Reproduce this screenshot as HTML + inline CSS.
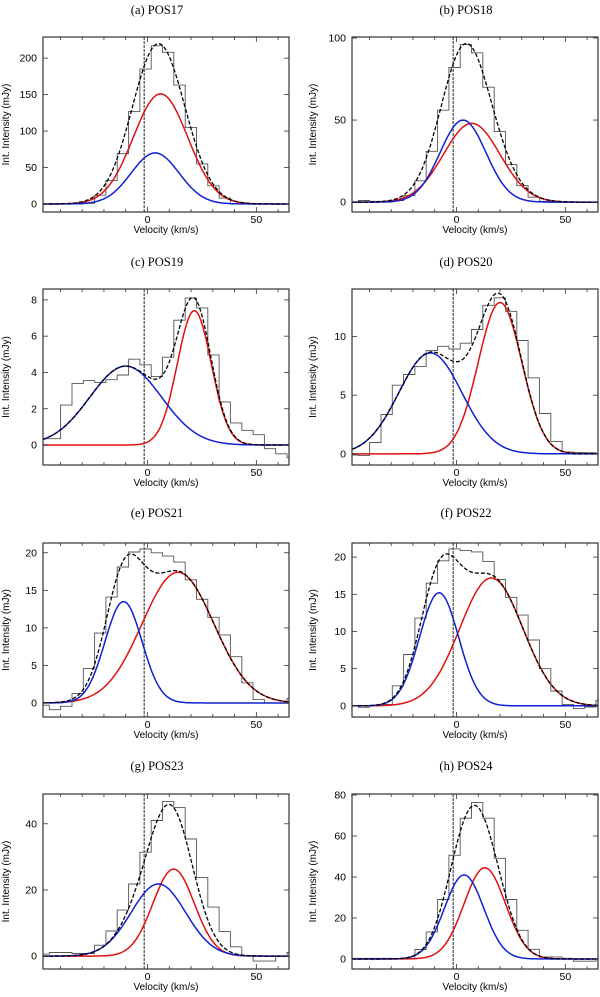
<!DOCTYPE html>
<html><head><meta charset="utf-8">
<style>
html,body{margin:0;padding:0;background:#fff;}
svg{display:block;font-family:"Liberation Sans",sans-serif;}
.title{font-family:"Liberation Serif",serif;font-size:12.5px;}
.tick{font-size:10.5px;}
.lab{font-size:10px;}
</style></head>
<body>
<svg id="fig" width="600" height="997" viewBox="0 0 600 997" xmlns="http://www.w3.org/2000/svg"></svg>
<script>
// shared spectral grid
const binStart = -50.3;
const binWidth = 5.2;
const xDomain = [-48, 65];
const xTicks = [0, 50];
const vLine = -1.5;

const titles = ["(a) POS17","(b) POS18","(c) POS19","(d) POS20","(e) POS21","(f) POS22","(g) POS23","(h) POS24"];
const yDomains = [[-11,229],[-6,100.6],[-1.1,8.6],[-0.95,14.05],[-1.87,21.3],[-1.5,21.9],[-3.9,49],[-4.9,80.5]];
const yTicks = [[0,50,100,150,200],[0,50,100],[0,2,4,6,8],[0,5,10],[0,5,10,15,20],[0,5,10,15,20],[0,20,40],[0,20,40,60,80]];

// observed channel values per panel
const stepsA = [0,0,0,0,1,12,32,69,127,185,217,208,163,105,55,25,8,0,0,0,0,0,0];
const stepsB = [0,1,0.5,0,1,4,13,31,56,82,96,91,70,43,23,10,3,0.5,0,0,0,0,0];
const stepsC = [0.35,0.35,2.2,3.4,3.55,3.45,3.6,3.86,4.73,4.42,3.77,4.84,6.88,8.1,7.56,4.97,2.38,1.22,0.81,0.57,-0.2,-0.48,-0.7];
const stepsD = [-0.1,-0.15,0.97,3.35,5.85,6.76,7.45,8.8,9.17,8.94,9.43,10.6,12.66,13.3,12.15,9.66,6.48,3.44,1.06,0.17,0.11,0.1,0];
const stepsE = [-0.3,-0.9,-0.45,1.25,4.6,9.3,14.1,18.1,20.1,20.5,20.0,19.55,18.75,16.4,13.8,11.4,9.06,6.16,2.68,0.45,0,0,0.6];
const stepsF = [0,-0.2,0,0.2,2.7,6.9,11.8,16.5,19.5,21.1,20.9,20.7,19.4,17.0,14.6,12.2,8.85,5.0,2.0,0.2,-0.35,-0.15,0.75];
const stepsG = [0.6,1.1,1.1,0.8,0.8,3.3,7.6,13.9,21.8,31.4,41.0,46.7,44.9,35.4,23.8,14.8,7.4,2.8,0,-1.5,-1.5,0,1.1];
const stepsH = [0.3,0.3,0.3,0.3,0,0.3,4.6,13.2,29,50.6,68.7,76.4,68.7,49.1,29,14,4.7,1,1,0.3,-1.1,-1.1,0];

// gaussian components [amplitude, center km/s, sigma km/s]
const redA = [151, 6, 12.5],  blueA = [70, 3.5, 11];
const redB = [48, 7, 13],     blueB = [50, 3, 10.5];
const redC = [7.4, 21.5, 7.8], blueC = [4.35, -10, 16.5];
const redD = [12.9, 20, 10],  blueD = [8.6, -12, 14.5];
const redE = [17.4, 14, 16.5], blueE = [13.5, -11, 8.5];
const redF = [17.2, 16, 14.5], blueF = [15.2, -8, 9];
const redG = [26.3, 12, 9.5], blueG = [21.8, 5, 12.5];
const redH = [44.5, 13, 9.5], blueH = [41, 3.5, 9];

const stepsAll = [stepsA,stepsB,stepsC,stepsD,stepsE,stepsF,stepsG,stepsH];
const redAll = [redA,redB,redC,redD,redE,redF,redG,redH];
const blueAll = [blueA,blueB,blueC,blueD,blueE,blueF,blueG,blueH];

const NS = "http://www.w3.org/2000/svg";
const fig = document.getElementById("fig");
function mk(tag, attrs, parent){
  const e = document.createElementNS(NS, tag);
  for (const k in attrs) e.setAttribute(k, attrs[k]);
  (parent||fig).appendChild(e);
  return e;
}
function gauss(p, v){ return p[0]*Math.exp(-(v-p[1])*(v-p[1])/(2*p[2]*p[2])); }

const boxLefts = [43, 352];
const boxW = [246, 246];
const boxTops = [37, 289, 543, 794];
const boxH = [175, 176, 174, 175];
const titleY = [14, 266, 517, 770];

for (let i = 0; i < 8; i++) {
  const col = i % 2, row = Math.floor(i/2);
  const L = boxLefts[col], T = boxTops[row], W = boxW[col], H = boxH[row];
  const R = L + W, B = T + H;
  const yd = yDomains[i];
  const xs = v => L + (v - xDomain[0]) / (xDomain[1] - xDomain[0]) * W;
  const ys = y => B - (y - yd[0]) / (yd[1] - yd[0]) * H;

  const g = mk("g", {});
  
  

  const t = mk("text", {x: L + W/2 - 9, y: titleY[row], "text-anchor":"middle", class:"title"}, g);
  t.textContent = titles[i];
  
  

  const cid = "clip" + i;
  const cp = mk("clipPath", {id: cid}, g);
  mk("rect", {x: L, y: T, width: W, height: H}, cp);
  const plot = mk("g", {"clip-path": "url(#" + cid + ")"}, g);

  // histogram
  const st = stepsAll[i];
  let d = "M" + L + "," + ys(st[0]).toFixed(1);
  for (let k = 0; k < st.length; k++) {
    const x0 = xs(binStart + k*binWidth), x1 = xs(binStart + (k+1)*binWidth);
    d += "L" + x0.toFixed(1) + "," + ys(st[k]).toFixed(1) + "L" + x1.toFixed(1) + "," + ys(st[k]).toFixed(1);
  }
  const hist = mk("path", {d: d, fill: "none", stroke: "#555", "stroke-width": 0.9}, plot);
  
  

  // velocity marker line
  const vl = mk("line", {x1: xs(vLine), x2: xs(vLine), y1: T, y2: B, stroke: "#666", "stroke-width": 1.4, "stroke-dasharray": "3,1"}, plot);
  
  

  function curve(fn){
    let s = "";
    for (let v = xDomain[0]; v <= xDomain[1] + 0.01; v += 0.5) {
      s += (s ? "L" : "M") + xs(v).toFixed(1) + "," + ys(fn(v)).toFixed(1);
    }
    return s;
  }
  const rc = mk("path", {d: curve(v => gauss(redAll[i], v)), fill: "none", stroke: "#e01010", "stroke-width": 1.5}, plot);
  
  
  const bc = mk("path", {d: curve(v => gauss(blueAll[i], v)), fill: "none", stroke: "#1020d0", "stroke-width": 1.5}, plot);
  
  
  const tc = mk("path", {d: curve(v => gauss(redAll[i], v) + gauss(blueAll[i], v)), fill: "none", stroke: "#000", "stroke-width": 1.3, "stroke-dasharray": "4,2"}, plot);
  
  

  // frame
  const fr = mk("rect", {x: L, y: T, width: W, height: H, fill: "none", stroke: "#333", "stroke-width": 1.2}, g);
  
  

  // x ticks
  for (let v = -40; v <= 60; v += 10) {
    const x = xs(v), len = (v % 50 === 0) ? 5 : 3;
    mk("line", {x1: x, x2: x, y1: B, y2: B - len, stroke: "#333", "stroke-width": 0.8}, g);
    mk("line", {x1: x, x2: x, y1: T, y2: T + len, stroke: "#333", "stroke-width": 0.8}, g);
  }
  xTicks.forEach(v => {
    const tl = mk("text", {x: xs(v), y: B + 11, "text-anchor": "middle", class: "tick"}, g);
    tl.textContent = v;
    
    
  });
  // y ticks
  yTicks[i].forEach(v => {
    const y = ys(v);
    mk("line", {x1: L, x2: L + 5, y1: y, y2: y, stroke: "#333", "stroke-width": 0.8}, g);
    mk("line", {x1: R, x2: R - 5, y1: y, y2: y, stroke: "#333", "stroke-width": 0.8}, g);
    const tl = mk("text", {x: L - 6, y: y + 3.5, "text-anchor": "end", class: "tick"}, g);
    tl.textContent = v;
    
    
  });

  const xl = mk("text", {x: L + W/2, y: B + 21, "text-anchor": "middle", class: "lab"}, g);
  xl.textContent = "Velocity (km/s)";
  
  
  const yx = col === 0 ? 9 : 316, yy = T + H/2;
  const yl = mk("text", {x: yx, y: yy, "text-anchor": "middle", class: "lab", transform: "rotate(-90 " + yx + " " + yy + ")"}, g);
  yl.textContent = "Int. Intensity (mJy)";
  
  
}
</script>
</body></html>
